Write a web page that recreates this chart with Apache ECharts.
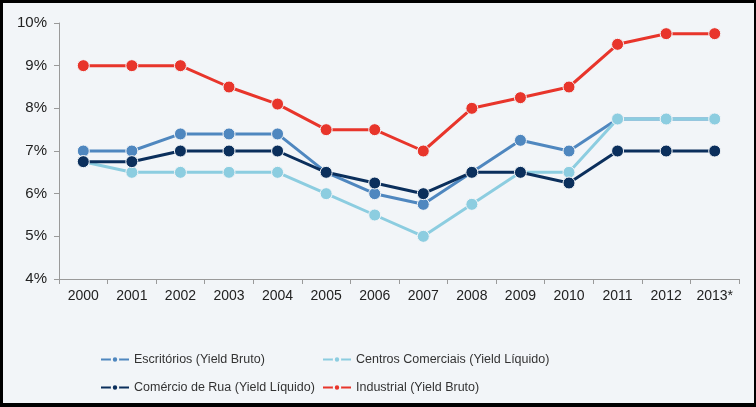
<!DOCTYPE html>
<html>
<head>
<meta charset="utf-8">
<script src="https://cdn.jsdelivr.net/npm/echarts@6/dist/echarts.min.js"></script>
<style>
html,body{margin:0;padding:0;background:#000;width:756px;height:407px;overflow:hidden;}
#c{position:absolute;left:3px;top:3px;width:751px;height:400px;background:#f2f5f8;}
</style>
</head>
<body>
<div id="c"></div>
<script>
var categories = ['2000','2001','2002','2003','2004','2005','2006','2007','2008','2009','2010','2011','2012','2013*'];
var escritorios = [7.0,7.0,7.4,7.4,7.4,6.5,6.0,5.75,6.5,7.25,7.0,7.75,7.75,7.75];
var centros = [6.75,6.5,6.5,6.5,6.5,6.0,5.5,5.0,5.75,6.5,6.5,7.75,7.75,7.75];
var comercio = [6.75,6.75,7.0,7.0,7.0,6.5,6.25,6.0,6.5,6.5,6.25,7.0,7.0,7.0];
var industrial = [9.0,9.0,9.0,8.5,8.1,7.5,7.5,7.0,8.0,8.25,8.5,9.5,9.75,9.75];
var names = ['Escritórios (Yield Bruto)','Centros Comerciais (Yield Líquido)','Comércio de Rua (Yield Líquido)','Industrial (Yield Bruto)'];
var colors = ['#4f87bf','#8ccde0','#0b2f5c','#e8352b'];
var values = [escritorios, centros, comercio, industrial];

var chart = echarts.init(document.getElementById('c'));
var series = values.map(function(v,i){
  return {
    name: names[i], type:'line', data: v,
    symbol:'circle', symbolSize: 12,
    lineStyle:{color:colors[i], width:3},
    itemStyle:{color:colors[i], borderColor:'#f2f5f8', borderWidth:1},
    emphasis:{disabled:true},
    z: 2+i
  };
});
var legendText = {color:'#333', fontFamily:'Liberation Sans, Arial', fontSize:12.5};
chart.setOption({
  backgroundColor:'#f2f5f8',
  animation:false,
  grid:{left:56, right:15, top:20, bottom:124, containLabel:false},
  xAxis:{
    type:'category', data:categories, boundaryGap:true,
    axisLine:{lineStyle:{color:'#9a9a9a', width:1}},
    axisTick:{show:true, alignWithLabel:false, length:5, lineStyle:{color:'#9a9a9a'}},
    axisLabel:{color:'#222', fontSize:14, fontFamily:'Liberation Sans, Arial', margin:10, interval:0}
  },
  yAxis:{
    type:'value', min:4, max:10, interval:1,
    axisLine:{show:true, lineStyle:{color:'#9a9a9a', width:1}},
    axisTick:{show:true, length:5, lineStyle:{color:'#9a9a9a'}},
    splitLine:{show:false},
    axisLabel:{color:'#222', fontSize:15, fontFamily:'Liberation Sans, Arial', margin:12, formatter:'{value}%'}
  },
  legend:[
    {orient:'vertical', left:97, top:350, padding:0, itemWidth:28, itemHeight:8, itemGap:15,
     data:[names[0], names[2]], textStyle:legendText, selectedMode:false},
    {orient:'vertical', left:319, top:350, padding:0, itemWidth:28, itemHeight:8, itemGap:15,
     data:[names[1], names[3]], textStyle:legendText, selectedMode:false}
  ],
  series: series
});
</script>
</body>
</html>
